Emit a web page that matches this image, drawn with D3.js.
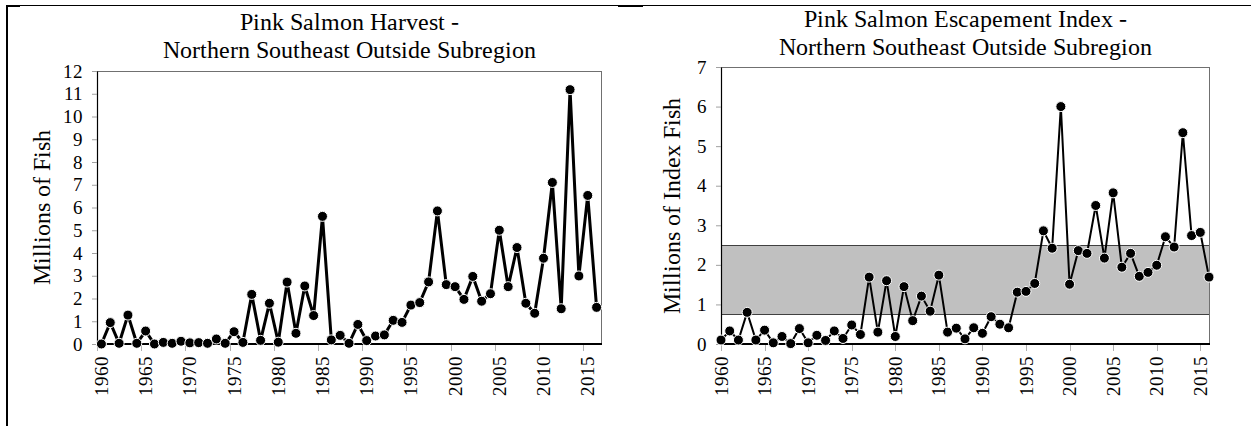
<!DOCTYPE html>
<html>
<head>
<meta charset="utf-8">
<script src="https://cdn.jsdelivr.net/npm/d3@7"></script>
<style>
@font-face { font-family: "RefSerif"; src: local("Liberation Serif"), local("LiberationSerif"), local("Times New Roman"); }
html, body { margin: 0; padding: 0; background: #fff; }
#chart text { font-family: "RefSerif", "Liberation Serif", "Times New Roman", Times, serif !important; }
</style>
</head>
<body>
<svg id="chart" width="1251" height="426" style="display:block"></svg>
<script>
const years = [1960,1961,1962,1963,1964,1965,1966,1967,1968,1969,
  1970,1971,1972,1973,1974,1975,1976,1977,1978,1979,
  1980,1981,1982,1983,1984,1985,1986,1987,1988,1989,
  1990,1991,1992,1993,1994,1995,1996,1997,1998,1999,
  2000,2001,2002,2003,2004,2005,2006,2007,2008,2009,
  2010,2011,2012,2013,2014,2015,2016];

const harvest = [0.0,0.94,0.03,1.27,0.03,0.57,0.0,0.07,0.03,0.12,
  0.05,0.06,0.03,0.22,0.03,0.54,0.07,2.18,0.16,1.79,
  0.08,2.72,0.47,2.55,1.25,5.61,0.18,0.38,0.03,0.86,
  0.15,0.35,0.40,1.04,0.95,1.71,1.82,2.73,5.85,2.61,
  2.52,1.96,2.97,1.88,2.21,5.00,2.52,4.24,1.79,1.35,
  3.77,7.10,1.55,11.18,2.99,6.53,1.61];

const escapement = [0.10,0.33,0.10,0.80,0.10,0.35,0.03,0.19,0.01,0.39,
  0.03,0.22,0.09,0.33,0.14,0.48,0.24,1.69,0.30,1.60,
  0.19,1.45,0.59,1.21,0.83,1.74,0.30,0.40,0.13,0.41,
  0.27,0.69,0.50,0.41,1.31,1.33,1.53,2.86,2.42,6.00,
  1.51,2.36,2.29,3.50,2.17,3.82,1.94,2.29,1.71,1.81,
  1.99,2.71,2.45,5.34,2.74,2.82,1.69];

const escapementGoal = [0.75, 2.5];

const leftTitle = ["Pink Salmon Harvest -", "Northern Southeast Outside Subregion"];
const rightTitle = ["Pink Salmon Escapement Index -", "Northern Southeast Outside Subregion"];
const leftYLabel = "Millions of Fish";
const rightYLabel = "Millions of Index Fish";
const leftYTicks = [0,1,2,3,4,5,6,7,8,9,10,11,12];
const rightYTicks = [0,1,2,3,4,5,6,7];
const xLabelYears = [1960,1965,1970,1975,1980,1985,1990,1995,2000,2005,2010,2015];

const FONT = '"RefSerif", "Liberation Serif", "Times New Roman", Times, serif';
const svg = d3.select("#chart");

svg.append("line").attr("x1", 6).attr("x2", 1251).attr("y1", 5.5).attr("y2", 5.5)
  .attr("stroke", "#000").attr("stroke-width", 1);
svg.append("line").attr("x1", 7).attr("x2", 7).attr("y1", 5).attr("y2", 426)
  .attr("stroke", "#000").attr("stroke-width", 2);
svg.append("line").attr("x1", 6).attr("x2", 20).attr("y1", 6).attr("y2", 6)
  .attr("stroke", "#000").attr("stroke-width", 2);
svg.append("line").attr("x1", 618).attr("x2", 643).attr("y1", 6).attr("y2", 6)
  .attr("stroke", "#000").attr("stroke-width", 2);

function label(sel, size) {
  return sel.attr("font-family", FONT)
    .style("font-family", FONT, "important")
    .style("font-size", size + "px").attr("fill", "#000");
}

function drawChart(cfg) {
  const g = svg.append("g");
  const { left, right, top, bottom } = cfg;
  const y = d3.scaleLinear().domain([0, cfg.yMax]).range([bottom, top]);
  let xc, xTickPos;
  if (cfg.band) {
    const xb = d3.scaleBand().domain(years).range([left, right]).padding(0);
    xc = d => xb(d) + xb.bandwidth() / 2;
    xTickPos = d => xb(d);
  } else {
    const xp = d3.scalePoint().domain(years).range([left, right]);
    xc = d => xp(d);
    xTickPos = d => xp(d);
  }

  if (cfg.goal) {
    g.append("rect").attr("x", left).attr("width", right - left)
      .attr("y", y(cfg.goal[1])).attr("height", y(cfg.goal[0]) - y(cfg.goal[1]))
      .attr("fill", "#c0c0c0");
    cfg.goal.forEach(v => {
      g.append("line").attr("x1", left).attr("x2", right)
        .attr("y1", Math.round(y(v)) + 0.5).attr("y2", Math.round(y(v)) + 0.5)
        .attr("stroke", "#404040").attr("stroke-width", 1);
    });
  }

  g.append("rect").attr("x", left + 0.5).attr("y", top + 0.5)
    .attr("width", right - left).attr("height", bottom - top)
    .attr("fill", "none").attr("stroke", "#707070").attr("stroke-width", 1);

  const yAxis = g.append("g").attr("transform", `translate(${left},0)`)
    .call(d3.axisLeft(y).tickValues(cfg.yTicks).tickFormat(d3.format("d"))
      .tickSize(5).tickSizeOuter(0).tickPadding(9));
  yAxis.attr("font-family", FONT).attr("font-size", null);
  yAxis.select(".domain").attr("stroke", "#000").attr("stroke-width", 1.2);
  yAxis.selectAll(".tick line").attr("stroke", "#a0a0a0");
  label(yAxis.selectAll(".tick text"), 19);

  g.append("line").attr("x1", left).attr("x2", right + 1).attr("y1", bottom).attr("y2", bottom)
    .attr("stroke", "#000").attr("stroke-width", 2);
  g.selectAll(".xt").data(xLabelYears).enter().append("line")
    .attr("x1", d => Math.round(xTickPos(d)) + 0.5).attr("x2", d => Math.round(xTickPos(d)) + 0.5)
    .attr("y1", bottom + 1).attr("y2", bottom + 7)
    .attr("stroke", "#b0b0b0").attr("stroke-width", 1);
  label(g.selectAll(".xl").data(xLabelYears).enter().append("text")
    .attr("transform", d => `translate(${xc(d) + 6.5},${bottom + 12}) rotate(-90)`)
    .attr("text-anchor", "end").text(d => d), 19);

  const pts = years.map((yr, i) => [xc(yr), y(cfg.values[i])]);
  g.append("path").attr("d", d3.line()(pts)).attr("fill", "none")
    .attr("stroke", "#000").attr("stroke-width", cfg.lineWidth).attr("stroke-linejoin", "miter");
  g.selectAll(".pt").data(pts).enter().append("circle")
    .attr("cx", d => d[0]).attr("cy", d => d[1]).attr("r", 5)
    .attr("fill", "#000").attr("stroke", "#fff").attr("stroke-width", 1);

  const cx = (left + right) / 2;
  cfg.title.forEach((t, i) => {
    label(g.append("text").attr("x", cx).attr("y", cfg.titleY[i]).attr("text-anchor", "middle").text(t), 24);
  });
  label(g.append("text").attr("transform", `translate(${cfg.yLabelX},${(top + bottom) / 2}) rotate(-90)`)
    .attr("text-anchor", "middle").text(cfg.yLabel), 24);
}

drawChart({ left: 97, right: 601, top: 71, bottom: 344, yMax: 12, yTicks: leftYTicks,
  band: true, values: harvest, lineWidth: 3, title: leftTitle, titleY: [30, 58],
  yLabel: leftYLabel, yLabelX: 50 });

drawChart({ left: 721, right: 1209, top: 67, bottom: 344, yMax: 7, yTicks: rightYTicks,
  band: false, values: escapement, lineWidth: 2, goal: escapementGoal,
  title: rightTitle, titleY: [27, 55], yLabel: rightYLabel, yLabelX: 680 });
</script>
</body>
</html>
